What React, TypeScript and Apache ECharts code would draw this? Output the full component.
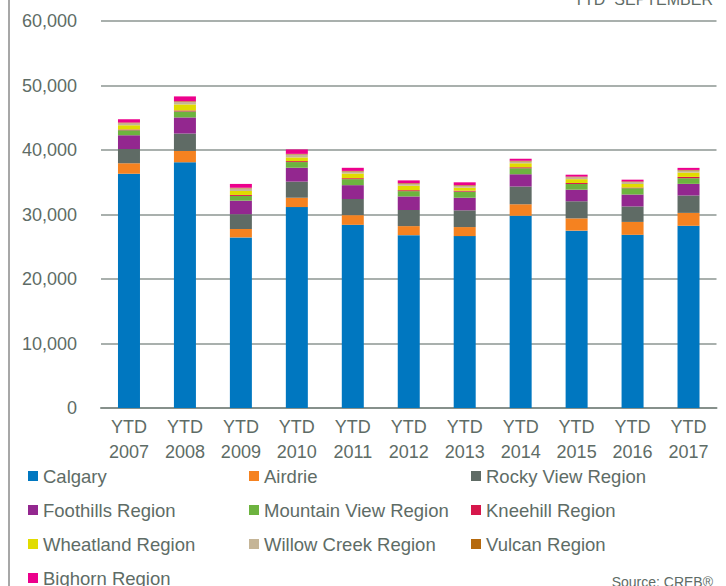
import React, { useEffect, useRef } from "react";
import * as echarts from "echarts";

const categories = ["YTD\n2007", "YTD\n2008", "YTD\n2009", "YTD\n2010", "YTD\n2011", "YTD\n2012", "YTD\n2013", "YTD\n2014", "YTD\n2015", "YTD\n2016", "YTD\n2017"];

const calgary = [36300, 38100, 26450, 31150, 28400, 26800, 26650, 29800, 27500, 26850, 28250];
const airdrie = [1650, 1750, 1300, 1450, 1500, 1400, 1400, 1800, 1900, 2000, 2000];
const rockyView = [2200, 2700, 2300, 2500, 2500, 2500, 2600, 2750, 2650, 2400, 2700];
const foothills = [2150, 2500, 2100, 2150, 2150, 2100, 1950, 1900, 1800, 1850, 1800];
const mountainView = [780, 930, 730, 880, 930, 820, 940, 930, 880, 980, 880];
const kneehill = [100, 150, 150, 150, 150, 150, 150, 150, 150, 100, 200];
const wheatland = [670, 940, 620, 570, 730, 700, 470, 600, 600, 550, 680];
const willowCreek = [300, 400, 400, 450, 300, 300, 300, 300, 300, 300, 300];
const vulcan = [100, 100, 100, 100, 100, 100, 100, 100, 100, 100, 100];
const bighorn = [530, 740, 590, 690, 480, 420, 430, 330, 290, 270, 320];

const yTicks = [0, 10000, 20000, 30000, 40000, 50000, 60000];

const seriesDefs = [
  { name: "Calgary", data: calgary, color: "#0077c0" },
  { name: "Airdrie", data: airdrie, color: "#f58220" },
  { name: "Rocky View Region", data: rockyView, color: "#5f6b65" },
  { name: "Foothills Region", data: foothills, color: "#93278f" },
  { name: "Mountain View Region", data: mountainView, color: "#6db33f" },
  { name: "Kneehill Region", data: kneehill, color: "#d6174b" },
  { name: "Wheatland Region", data: wheatland, color: "#e1dc00" },
  { name: "Willow Creek Region", data: willowCreek, color: "#c5b597" },
  { name: "Vulcan Region", data: vulcan, color: "#b5690d" },
  { name: "Bighorn Region", data: bighorn, color: "#ec008c" },
];

const legendCols = [
  ["Calgary", "Foothills Region", "Wheatland Region"],
  ["Airdrie", "Mountain View Region", "Willow Creek Region"],
  ["Rocky View Region", "Kneehill Region", "Vulcan Region"],
  ["Bighorn Region"],
];
const legendLefts = [23, 244, 466, 23];
const legendTops = [461, 461, 461, 563];

const textColor = "#5e6c66";
const fontFamily = "'Liberation Sans', Arial, sans-serif";

export default function App() {
  const ref = useRef<HTMLDivElement>(null);
  useEffect(() => {
    if (!ref.current) return;
    const chart = echarts.init(ref.current, null, { renderer: "svg" });
    chart.setOption({
      animation: false,
      backgroundColor: "#ffffff",
      textStyle: { fontFamily },
      grid: { left: 101, right: 9.5, top: 21, bottom: 178, containLabel: false },
      xAxis: {
        type: "category",
        data: categories,
        axisLine: { show: true, lineStyle: { color: "#86908b", width: 2 } },
        axisTick: { show: false },
        axisLabel: { color: textColor, fontSize: 18, lineHeight: 25, margin: 6, fontFamily },
      },
      yAxis: {
        type: "value",
        min: yTicks[0],
        max: yTicks[yTicks.length - 1],
        interval: 10000,
        axisLine: { show: false },
        axisTick: { show: false },
        splitLine: { lineStyle: { color: "#8c9692", width: 1.5 } },
        axisLabel: {
          color: textColor,
          fontSize: 18,
          margin: 24,
          fontFamily,
          formatter: (v: number) => v.toLocaleString("en-US"),
        },
      },
      legend: legendCols.map((col, i) => ({
        orient: "vertical",
        left: legendLefts[i],
        top: legendTops[i],
        height: 140,
        data: col,
        icon: "rect",
        itemWidth: 10,
        itemHeight: 10,
        itemGap: 14,
        padding: 5,
        selectedMode: false,
        textStyle: { color: textColor, fontSize: 18.5, lineHeight: 20, fontFamily },
      })),
      series: seriesDefs.map((s) => ({
        name: s.name,
        type: "bar",
        stack: "total",
        barWidth: 22,
        data: s.data,
        itemStyle: { color: s.color },
      })),
      graphic: [
        { type: "rect", left: 8, top: 0, shape: { width: 2, height: 586 }, style: { fill: "#a7a7a7" } },
        {
          type: "text",
          right: 13,
          top: -9,
          style: { text: "YTD  SEPTEMBER", fill: textColor, font: `16px ${fontFamily}` },
        },
        {
          type: "text",
          right: 13,
          top: 575,
          style: { text: "Source: CREB®", fill: textColor, font: `14px ${fontFamily}` },
        },
      ],
    });
    return () => chart.dispose();
  }, []);
  return <div ref={ref} style={{ width: 726, height: 586, position: "absolute", left: 0, top: 0 }} />;
}
